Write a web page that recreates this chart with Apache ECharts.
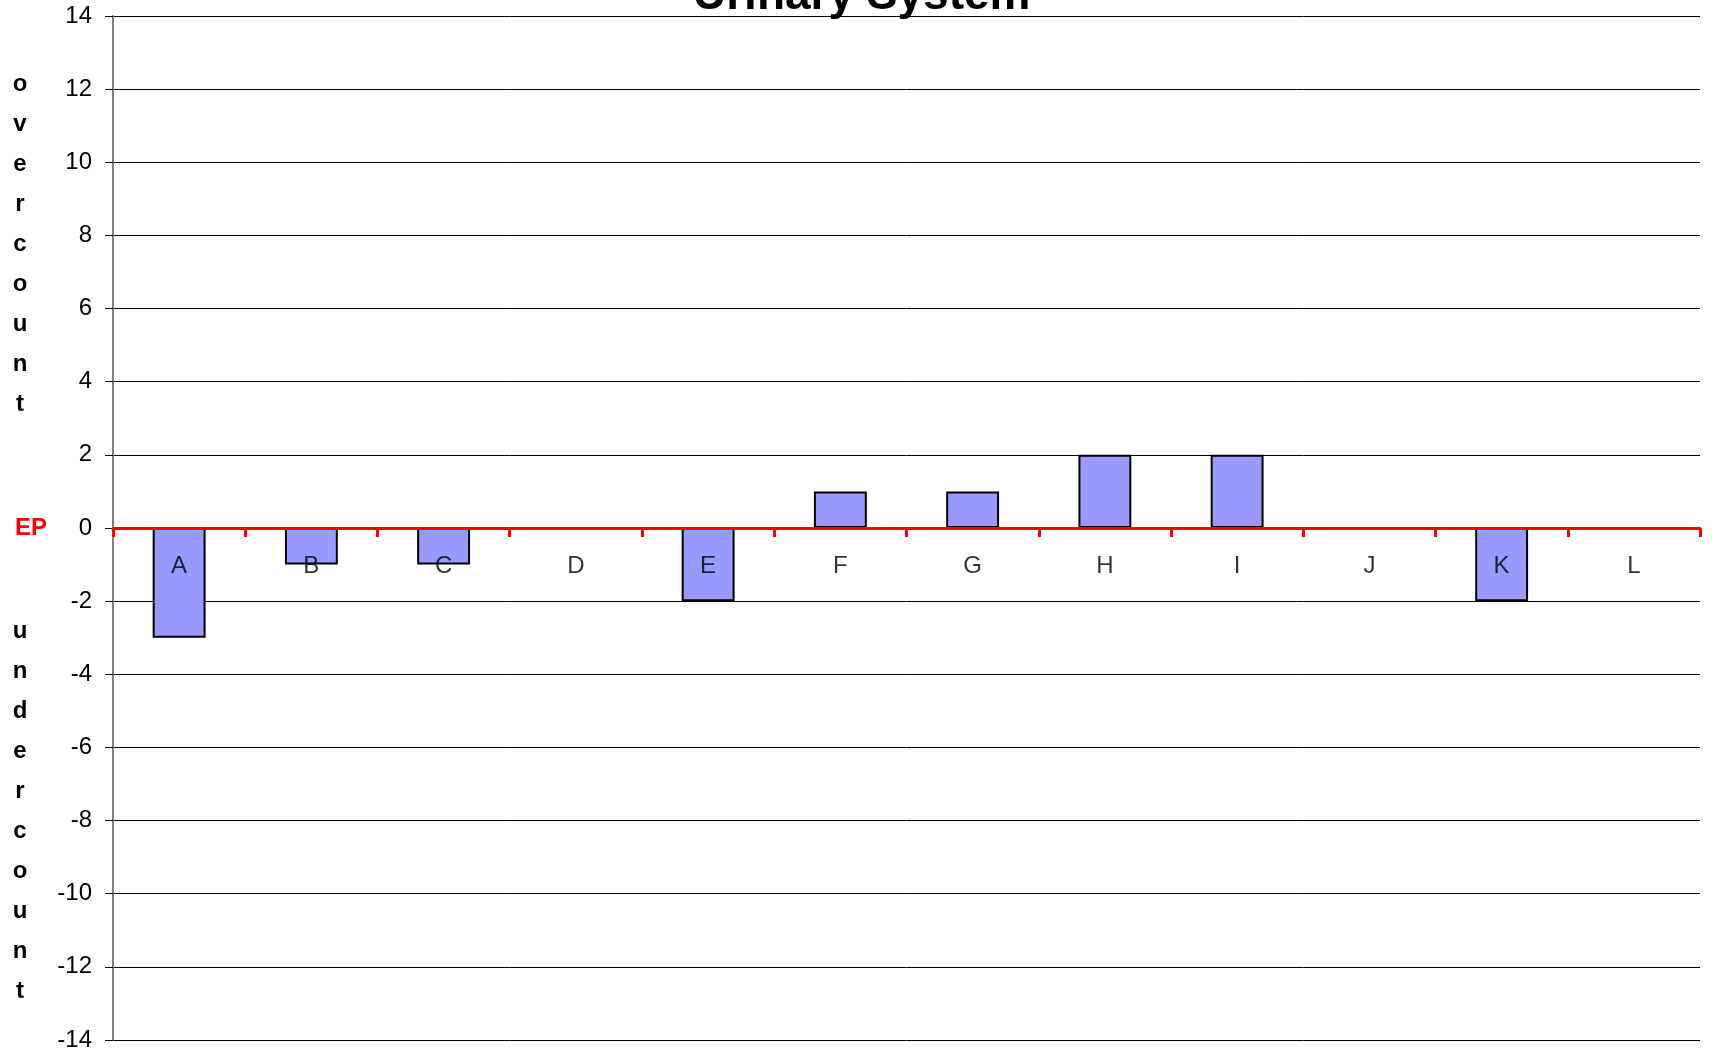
<!DOCTYPE html>
<html>
<head>
<meta charset="utf-8">
<script src="https://cdn.jsdelivr.net/npm/echarts@6/dist/echarts.min.js"></script>
<style>
html, body { margin: 0; padding: 0; background: #fff; }
#chart { width: 1713px; height: 1051px; }
</style>
</head>
<body>
<div id="chart"></div>
<script>
var categories = ['A', 'B', 'C', 'D', 'E', 'F', 'G', 'H', 'I', 'J', 'K', 'L'];
var counts = [-3, -1, -1, 0, -2, 1, 1, 2, 2, 0, -2, 0];
var epLine = [0, 0, 0, 0, 0, 0, 0, 0, 0, 0, 0, 0];
var titleText = 'Urinary System';
var overLabel = 'overcount';
var underLabel = 'undercount';

var font = '"Liberation Sans", Arial, sans-serif';

var chart = echarts.init(document.getElementById('chart'));
chart.setOption({
    backgroundColor: '#fff',
    animation: false,
    grid: {
        left: 113,
        right: 13,
        top: 16,
        bottom: 11,
        containLabel: false,
        outerBoundsMode: 'none'
    },
    graphic: [
        {
            type: 'text',
            left: 863 - 170,
            top: -27,
            style: {
                text: titleText,
                font: 'bold 46px ' + font,
                fill: '#000'
            }
        },
        {
            type: 'text',
            x: 20,
            y: 64,
            style: {
                text: overLabel.split('').join('\n'),
                font: 'bold 24px ' + font,
                lineHeight: 40,
                align: 'center',
                verticalAlign: 'top',
                fill: '#000'
            }
        },
        {
            type: 'text',
            x: 20,
            y: 611,
            style: {
                text: underLabel.split('').join('\n'),
                font: 'bold 24px ' + font,
                lineHeight: 40,
                align: 'center',
                verticalAlign: 'top',
                fill: '#000'
            }
        },
        {
            type: 'text',
            x: 31,
            y: 528,
            style: {
                text: 'EP',
                font: 'bold 24px ' + font,
                align: 'center',
                verticalAlign: 'middle',
                fill: '#ff0000'
            }
        }
    ],
    xAxis: {
        type: 'category',
        data: categories,
        z: 10,
        axisLine: {
            onZero: true,
            lineStyle: { color: '#ff0000', width: 3 }
        },
        axisTick: {
            show: true,
            length: 9,
            lineStyle: { color: '#ff0000', width: 3 }
        },
        axisLabel: { show: false },
        splitLine: { show: false }
    },
    yAxis: {
        type: 'value',
        min: -14,
        max: 14,
        interval: 2,
        axisLine: {
            show: true,
            lineStyle: { color: '#808080', width: 2 }
        },
        axisTick: {
            show: true,
            length: 8,
            lineStyle: { color: '#000', width: 1 }
        },
        axisLabel: {
            color: '#000',
            fontSize: 24,
            fontFamily: font,
            margin: 21
        },
        splitLine: {
            show: true,
            lineStyle: { color: '#000', width: 1 }
        }
    },
    series: [
        {
            name: 'count',
            type: 'bar',
            data: counts,
            barWidth: '40%',
            itemStyle: {
                color: '#9999ff',
                borderColor: '#000',
                borderWidth: 2
            }
        },
        {
            // category names sit just under the EP line
            name: 'labels',
            type: 'scatter',
            data: epLine,
            symbolSize: 0,
            z: 5,
            silent: true,
            label: {
                show: true,
                position: 'bottom',
                distance: 26,
                color: '#000',
                fontSize: 24,
                fontFamily: font,
                formatter: function (p) { return categories[p.dataIndex]; }
            }
        }
    ]
});
</script>
</body>
</html>
